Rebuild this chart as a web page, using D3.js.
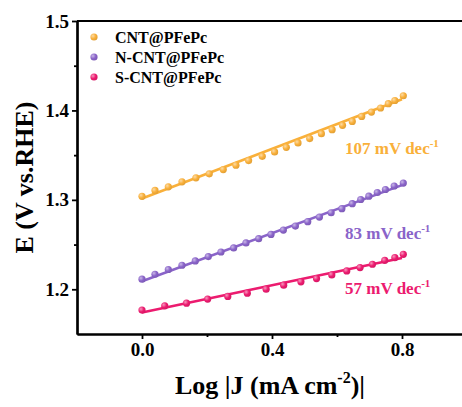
<!DOCTYPE html>
<html><head><meta charset="utf-8">
<script src="https://cdn.jsdelivr.net/npm/d3@7/dist/d3.min.js"></script>
<style>html,body{margin:0;padding:0;background:#fff;overflow:hidden}</style>
</head><body><svg id="c" width="462" height="407"></svg>
<script>
const seriesNames = ["CNT@PFePc", "N-CNT@PFePc", "S-CNT@PFePc"];
const seriesColors = ["#F9B03A", "#8A64C9", "#EC1B6F"];
const slopeLabels = ["107 mV dec", "83 mV dec", "57 mV dec"];

const cntX = [0, 0.040, 0.081, 0.123, 0.166, 0.207, 0.250, 0.289, 0.328, 0.370, 0.408, 0.444, 0.480, 0.516, 0.552, 0.585, 0.617, 0.647, 0.676, 0.706, 0.734, 0.758, 0.778, 0.804];
const cntY = [1.304, 1.3105, 1.3146, 1.3202, 1.3246, 1.3291, 1.3339, 1.3387, 1.3439, 1.3487, 1.3536, 1.3587, 1.3637, 1.3685, 1.3740, 1.3785, 1.3833, 1.3877, 1.3933, 1.3982, 1.4027, 1.4075, 1.4111, 1.4164];
const ncntX = [0, 0.040, 0.081, 0.123, 0.164, 0.204, 0.243, 0.282, 0.320, 0.359, 0.397, 0.435, 0.472, 0.510, 0.546, 0.582, 0.615, 0.647, 0.673, 0.698, 0.724, 0.749, 0.776, 0.804];
const ncntY = [1.2113, 1.2168, 1.2221, 1.2269, 1.2317, 1.2366, 1.2417, 1.2462, 1.2518, 1.2566, 1.2614, 1.2662, 1.2707, 1.2756, 1.2807, 1.2856, 1.2901, 1.2957, 1.3004, 1.3041, 1.3082, 1.3116, 1.3155, 1.3188];
const scntX = [0, 0.070, 0.137, 0.202, 0.264, 0.324, 0.382, 0.436, 0.489, 0.537, 0.584, 0.630, 0.671, 0.709, 0.747, 0.778, 0.804];
const scntY = [1.1767, 1.1815, 1.1845, 1.1890, 1.1920, 1.1957, 1.2001, 1.2046, 1.2083, 1.2120, 1.2161, 1.2205, 1.2243, 1.2280, 1.2324, 1.2355, 1.2391];
// linear fit endpoints [x0, y0, x1, y1]
const fitCNT = [0, 1.3015, 0.80, 1.4125];
const fitNCNT = [0, 1.2090, 0.80, 1.3165];
const fitSCNT = [0, 1.1740, 0.80, 1.2350];

const xTicks = [0.0, 0.4, 0.8];
const xMinor = [0.2, 0.6];
const yTicks = [1.2, 1.3, 1.4, 1.5];
const yMinor = [1.25, 1.35, 1.45];

const series = [
  {x: cntX, y: cntY, fit: fitCNT},
  {x: ncntX, y: ncntY, fit: fitNCNT},
  {x: scntX, y: scntY, fit: fitSCNT}
];

const svg = d3.select("#c");
const L = 77, T = 21, R = 467, B = 334;
const x = d3.scaleLinear().domain([-0.2, 1.0]).range([L, R]);
const y = d3.scaleLinear().domain([1.15, 1.5]).range([B, T]);
const font = "'Liberation Serif','Times New Roman',serif";

// gradients for sphere markers
const defs = svg.append("defs");
seriesColors.forEach((c, i) => {
  const g = defs.append("radialGradient").attr("id", "g" + i)
    .attr("cx", "35%").attr("cy", "35%").attr("r", "70%");
  g.append("stop").attr("offset", "0%").attr("stop-color", d3.interpolateRgb(c, "#fff")(0.55));
  g.append("stop").attr("offset", "55%").attr("stop-color", c);
  g.append("stop").attr("offset", "100%").attr("stop-color", d3.color(c).darker(0.3));
});

// axes
const xAxis = svg.append("g").attr("transform", `translate(0,${B})`)
  .call(d3.axisBottom(x).tickValues(xTicks).tickFormat(d3.format(".1f")).tickSize(5).tickSizeOuter(0).tickPadding(4));
svg.append("g").attr("transform", `translate(0,${B})`)
  .call(d3.axisBottom(x).tickValues(xMinor).tickFormat("").tickSize(3).tickSizeOuter(0));
const yAxis = svg.append("g").attr("transform", `translate(${L},0)`)
  .call(d3.axisLeft(y).tickValues(yTicks).tickFormat(d3.format(".1f")).tickSize(5).tickSizeOuter(0).tickPadding(3));
svg.append("g").attr("transform", `translate(${L},0)`)
  .call(d3.axisLeft(y).tickValues(yMinor).tickFormat("").tickSize(3).tickSizeOuter(0));
svg.selectAll(".domain").attr("stroke", "#000").attr("stroke-width", 2.2);
svg.selectAll(".tick line").attr("stroke", "#000").attr("stroke-width", 1.8);
svg.selectAll(".tick text").attr("font-family", font).attr("font-weight", "bold")
  .attr("font-size", 19).attr("fill", "#000");
// top border
svg.append("line").attr("x1", x(-0.2)).attr("x2", x(1.0)).attr("y1", y(1.5)).attr("y2", y(1.5))
  .attr("stroke", "#000").attr("stroke-width", 2.2);

// fit lines and points
series.forEach((s, i) => {
  svg.append("line")
    .attr("x1", x(s.fit[0])).attr("y1", y(s.fit[1]))
    .attr("x2", x(s.fit[2])).attr("y2", y(s.fit[3]))
    .attr("stroke", seriesColors[i]).attr("stroke-width", 2.6);
  svg.append("g").selectAll("circle").data(s.x.map((v, k) => [v, s.y[k]])).join("circle")
    .attr("cx", d => x(d[0])).attr("cy", d => y(d[1])).attr("r", 3.6)
    .attr("fill", `url(#g${i})`);
});

// legend
seriesNames.forEach((n, i) => {
  const yy = 37 + i * 20;
  svg.append("circle").attr("cx", 94).attr("cy", yy).attr("r", 3.6).attr("fill", `url(#g${i})`);
  svg.append("text").attr("x", 115).attr("y", yy + 5.5).text(n)
    .attr("font-family", font).attr("font-weight", "bold").attr("font-size", 16).attr("fill", "#000");
});

// slope annotations
const annY = [154, 239, 294];
slopeLabels.forEach((t, i) => {
  const tx = svg.append("text").attr("x", 345).attr("y", annY[i])
    .attr("font-family", font).attr("font-weight", "bold").attr("font-size", 17)
    .attr("fill", seriesColors[i]);
  tx.append("tspan").text(t);
  tx.append("tspan").text("-1").attr("font-size", 11).attr("dy", -7);
});

// axis titles
svg.append("text").attr("transform", `translate(33,${(T + B) / 2}) rotate(-90)`)
  .attr("text-anchor", "middle").attr("font-family", font).attr("font-weight", "bold")
  .attr("font-size", 26).text("E (V vs.RHE)");
const xl = svg.append("text").attr("x", 270).attr("y", 394).attr("text-anchor", "middle")
  .attr("font-family", font).attr("font-weight", "bold").attr("font-size", 26);
xl.append("tspan").text("Log |J (mA cm");
xl.append("tspan").text("-2").attr("font-size", 16).attr("dy", -11);
xl.append("tspan").text(")|").attr("dy", 11);
</script></body></html>
